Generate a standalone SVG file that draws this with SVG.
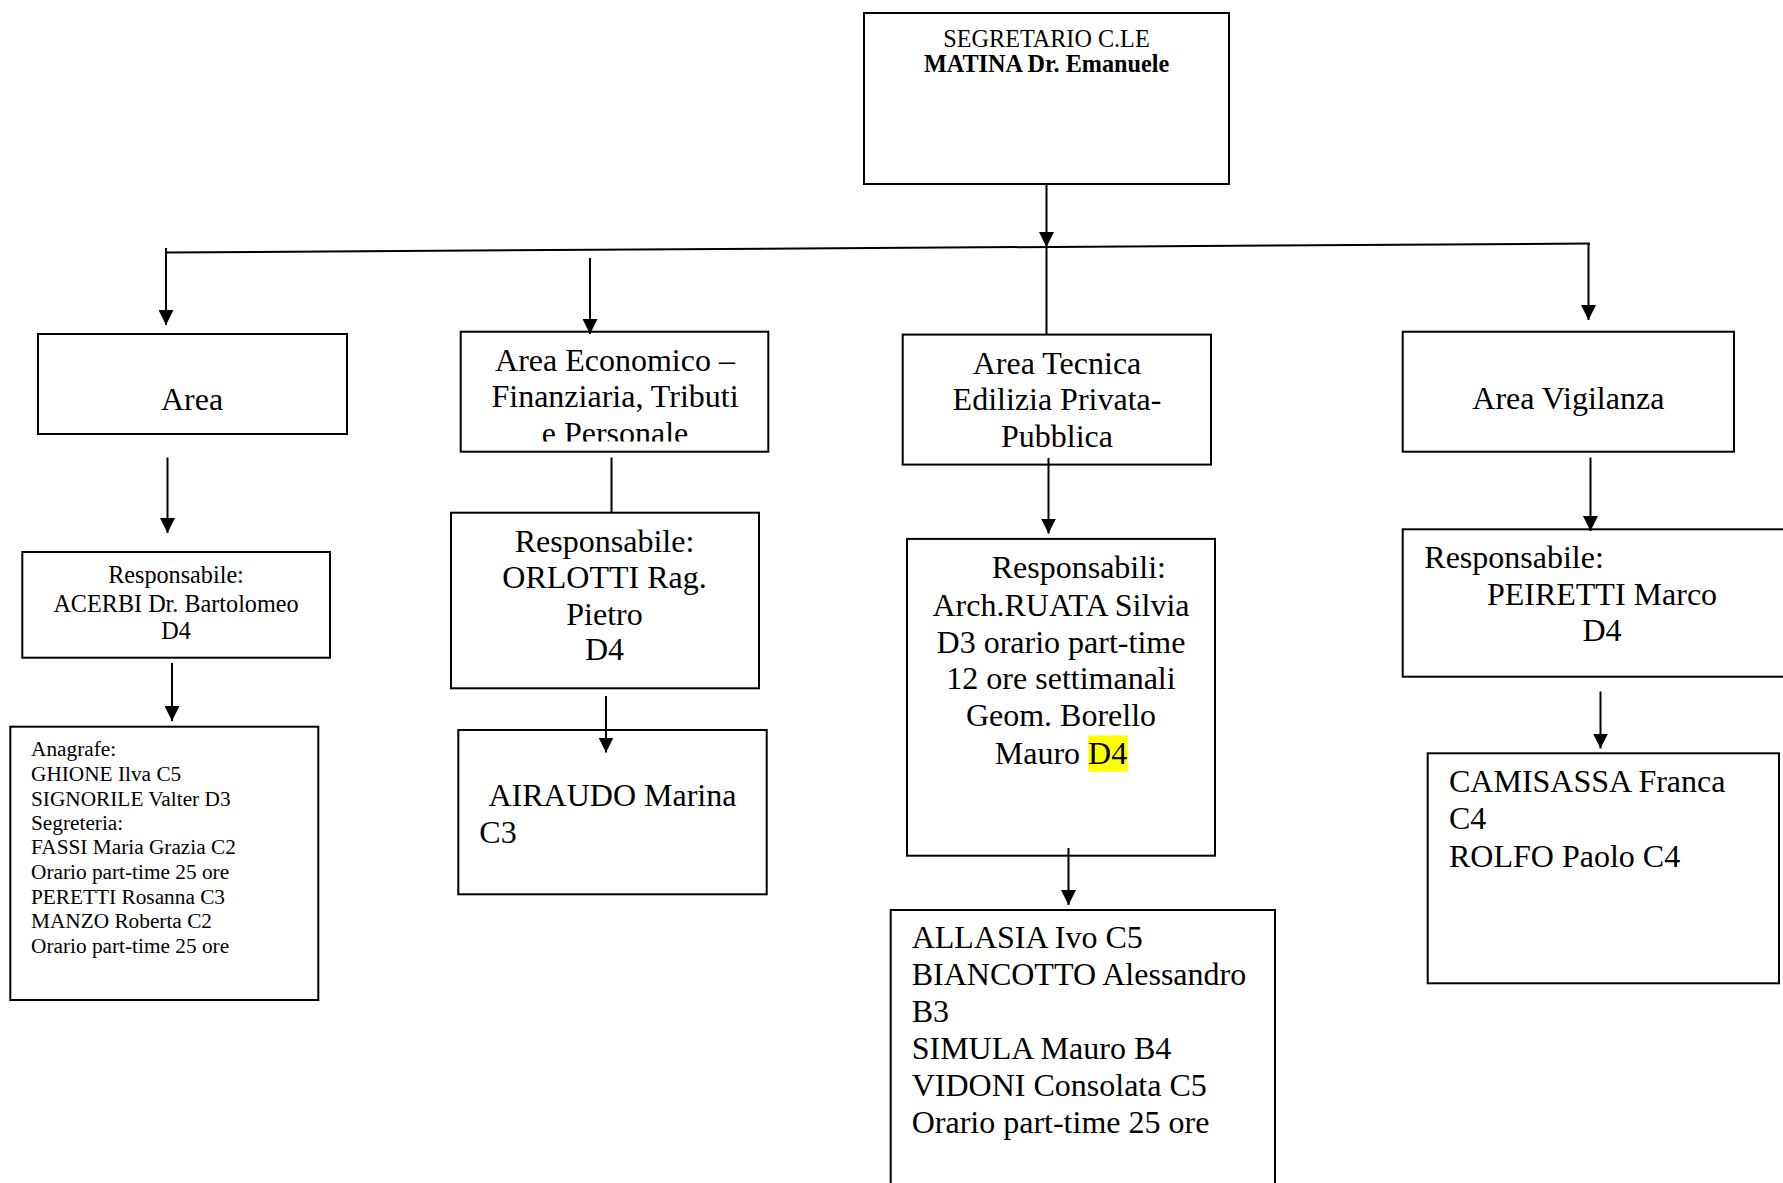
<svg xmlns="http://www.w3.org/2000/svg" width="1783" height="1183" viewBox="0 0 1783 1183">
<style>
.box{fill:#fff;stroke:#000;stroke-width:2}
.c{stroke:#000;stroke-width:2;fill:none}
.a{stroke:#000;stroke-width:2;fill:none;marker-end:url(#ah)}
text{font-family:"Liberation Serif","Times New Roman",serif;fill:#000}
.big{font-size:32px}
.mid{font-size:24.2px}
.sm{font-size:21.3px}
.m{text-anchor:middle}
</style>
<defs>
<marker id="ah" markerUnits="userSpaceOnUse" markerWidth="15" markerHeight="15" refX="15" refY="7.5" orient="auto" viewBox="0 0 15 15">
<path d="M0,0 L15,7.5 L0,15 Z" fill="#000"/>
</marker>
<clipPath id="econClip"><rect x="461" y="333" width="306" height="108.5"/></clipPath>
</defs>
<rect width="1783" height="1183" fill="#fff"/>

<g id="segretario">
<rect class="box" x="864" y="13" width="365" height="171"/>
<text class="mid m" x="1046.5" y="46.7">SEGRETARIO C.LE</text>
<text class="mid m" x="1046.5" y="71.7" font-weight="bold">MATINA Dr. Emanuele</text>
</g>

<g id="area">
<rect class="box" x="38" y="334" width="309" height="100"/>
<text class="big m" x="192" y="410">Area</text>
</g>

<g id="acerbi">
<rect class="box" x="22.3" y="552" width="307.7" height="105.7"/>
<text class="mid m" x="176" y="583.3">Responsabile:</text>
<text class="mid m" x="176" y="611.7">ACERBI Dr. Bartolomeo</text>
<text class="mid m" x="176" y="639.3">D4</text>
</g>

<g id="anagrafe">
<rect class="box" x="10.3" y="726.7" width="308" height="273.3"/>
<text class="sm" x="31">
<tspan x="31" y="756">Anagrafe:</tspan>
<tspan x="31" y="780.7">GHIONE Ilva C5</tspan>
<tspan x="31" y="805.7">SIGNORILE Valter D3</tspan>
<tspan x="31" y="830">Segreteria:</tspan>
<tspan x="31" y="854.3">FASSI Maria Grazia C2</tspan>
<tspan x="31" y="879">Orario part-time 25 ore</tspan>
<tspan x="31" y="904">PERETTI Rosanna C3</tspan>
<tspan x="31" y="928.3">MANZO Roberta C2</tspan>
<tspan x="31" y="952.7">Orario part-time 25 ore</tspan>
</text>
</g>

<g id="economico">
<rect class="box" x="460.7" y="331.7" width="307.6" height="120"/>
<g clip-path="url(#econClip)">
<text class="big m" x="615" y="370.7">Area Economico –</text>
<text class="big m" x="615" y="407.3">Finanziaria, Tributi</text>
<text class="big m" x="615" y="444">e Personale</text>
</g>
</g>

<g id="orlotti">
<rect class="box" x="451" y="512.7" width="308" height="175.6"/>
<text class="big m" x="604.5" y="551.7">Responsabile:</text>
<text class="big m" x="604.5" y="588.3">ORLOTTI Rag.</text>
<text class="big m" x="604.5" y="625">Pietro</text>
<text class="big m" x="604.5" y="660">D4</text>
</g>

<g id="airaudo">
<rect class="box" x="458.3" y="730" width="308.4" height="164.3"/>
<text class="big" x="488.5" y="806">AIRAUDO Marina</text>
<text class="big" x="479.3" y="843.3">C3</text>
</g>

<g id="tecnica">
<rect class="box" x="902.7" y="334.6" width="308.3" height="130"/>
<text class="big m" x="1057" y="373.6">Area Tecnica</text>
<text class="big m" x="1057" y="410.4">Edilizia Privata-</text>
<text class="big m" x="1057" y="447.1">Pubblica</text>
</g>

<g id="responsabili">
<rect class="box" x="907" y="538.9" width="308" height="316.8"/>
<rect x="1088.3" y="735.4" width="39.4" height="36.4" fill="#ffff00"/>
<text class="big" x="991.7" y="578.2">Responsabili:</text>
<text class="big m" x="1061" y="615.7">Arch.RUATA Silvia</text>
<text class="big m" x="1061" y="653.2">D3 orario part-time</text>
<text class="big m" x="1061" y="688.9">12 ore settimanali</text>
<text class="big m" x="1061" y="726.4">Geom. Borello</text>
<text class="big m" x="1061" y="763.9">Mauro D4</text>
</g>

<g id="allasia">
<rect class="box" x="890.7" y="910" width="384.3" height="290"/>
<text class="big">
<tspan x="911.7" y="948.3">ALLASIA Ivo C5</tspan>
<tspan x="911.7" y="985">BIANCOTTO Alessandro</tspan>
<tspan x="911.7" y="1021.7">B3</tspan>
<tspan x="911.7" y="1059.3">SIMULA Mauro B4</tspan>
<tspan x="911.7" y="1096">VIDONI Consolata C5</tspan>
<tspan x="911.7" y="1133.3">Orario part-time 25 ore</tspan>
</text>
</g>

<g id="vigilanza">
<rect class="box" x="1402.7" y="331.7" width="331.3" height="120"/>
<text class="big m" x="1568.3" y="409.3">Area Vigilanza</text>
</g>

<g id="peiretti">
<rect class="box" x="1402.7" y="529.3" width="400" height="147.4"/>
<text class="big" x="1424.3" y="568.3">Responsabile:</text>
<text class="big m" x="1602" y="605">PEIRETTI Marco</text>
<text class="big m" x="1602" y="640.7">D4</text>
</g>

<g id="camisassa">
<rect class="box" x="1427.7" y="753.3" width="351.3" height="230"/>
<text class="big">
<tspan x="1449" y="792.3">CAMISASSA Franca</tspan>
<tspan x="1449" y="829">C4</tspan>
<tspan x="1449" y="867">ROLFO Paolo C4</tspan>
</text>
</g>

<g id="connectors">
<line class="a" x1="1046.5" y1="184" x2="1046.5" y2="247"/>
<line class="c" x1="1046.5" y1="247" x2="1046.5" y2="334.6"/>
<line class="c" x1="166" y1="252.5" x2="1590" y2="243.5"/>
<line class="a" x1="166" y1="248" x2="166" y2="325"/>
<line class="a" x1="590" y1="258" x2="590" y2="334"/>
<line class="a" x1="1588.5" y1="243.5" x2="1588.5" y2="320"/>
<line class="a" x1="167.5" y1="457.5" x2="167.5" y2="533"/>
<line class="a" x1="172" y1="663" x2="172" y2="721"/>
<line class="c" x1="611.5" y1="457.5" x2="611.5" y2="513"/>
<line class="a" x1="606" y1="696" x2="606" y2="752.5"/>
<line class="a" x1="1048.5" y1="457.9" x2="1048.5" y2="533.6"/>
<line class="a" x1="1068.5" y1="848" x2="1068.5" y2="905"/>
<line class="a" x1="1590.5" y1="457.5" x2="1590.5" y2="531"/>
<line class="a" x1="1600.5" y1="691.5" x2="1600.5" y2="748.5"/>
</g>
</svg>
